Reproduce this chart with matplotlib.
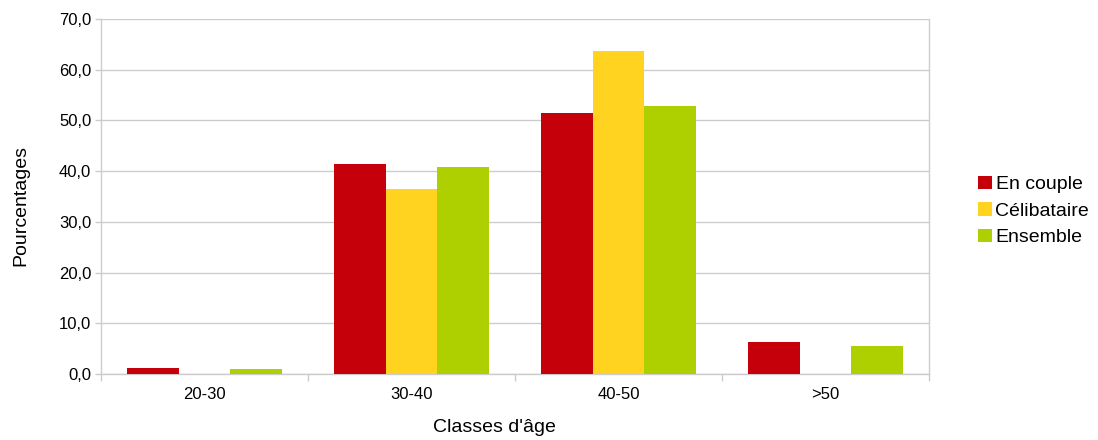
import matplotlib
matplotlib.use("Agg")
import matplotlib.pyplot as plt
import numpy as np
from matplotlib.patches import Patch

categories = ["20-30", "30-40", "40-50", ">50"]
series_names = ["En couple", "Célibataire", "Ensemble"]
en_couple = [1.25, 41.4, 51.4, 6.25]
celibataire = [0.0, 36.4, 63.6, 0.0]
ensemble = [1.05, 40.8, 52.8, 5.6]
colors = ["#c5000b", "#ffd320", "#aecf00"]
yticks = [0, 10, 20, 30, 40, 50, 60, 70]

plt.rcParams['font.family'] = ['Liberation Sans', 'DejaVu Sans']

fig = plt.figure(figsize=(10.98, 4.40), dpi=100)
ax = fig.add_axes([101/1098, 1-374/440, (929-101)/1098, (374-19)/440])

x = np.arange(len(categories))
w = 0.25
for i, (vals, c) in enumerate(zip([en_couple, celibataire, ensemble], colors)):
    ax.bar(x + (i-1)*w, vals, width=w, color=c, zorder=3)

grid_c = "#cccccc"
ax.set_ylim(0, 70)
ax.set_xlim(-0.5, len(categories)-0.5)
ax.set_yticks(yticks)
ax.set_yticklabels([f"{v:.1f}".replace(".", ",") for v in yticks], fontsize=12)
ax.yaxis.grid(True, color=grid_c, linewidth=1, zorder=0)
ax.set_xticks(x)
ax.set_xticklabels(categories, fontsize=12)
ax.set_xticks(np.arange(-0.5, len(categories)), minor=True)
ax.tick_params(axis='x', which='major', length=0, pad=9)
ax.tick_params(axis='x', which='minor', length=5, color=grid_c, width=1)
ax.tick_params(axis='y', length=4, color=grid_c, width=1, pad=3)
for s in ['left', 'bottom', 'right']:
    ax.spines[s].set_color(grid_c)
    ax.spines[s].set_linewidth(1)
ax.spines['top'].set_visible(False)

fig.text(494/1098, 1-427/440, "Classes d'âge", fontsize=14, ha='center', va='center')
fig.text(21/1098, 1-205/440, "Pourcentages", fontsize=14, ha='center', va='center', rotation=90)

handles = [Patch(facecolor=c, edgecolor='none') for c in colors]
fig.legend(handles, series_names, loc='center left', bbox_to_anchor=(978/1098, 1-211/440),
           frameon=False, fontsize=14, handlelength=0.7, handleheight=0.7,
           handletextpad=0.2, labelspacing=0.45, borderaxespad=0, borderpad=0)

fig.savefig("out.png", dpi=100)
